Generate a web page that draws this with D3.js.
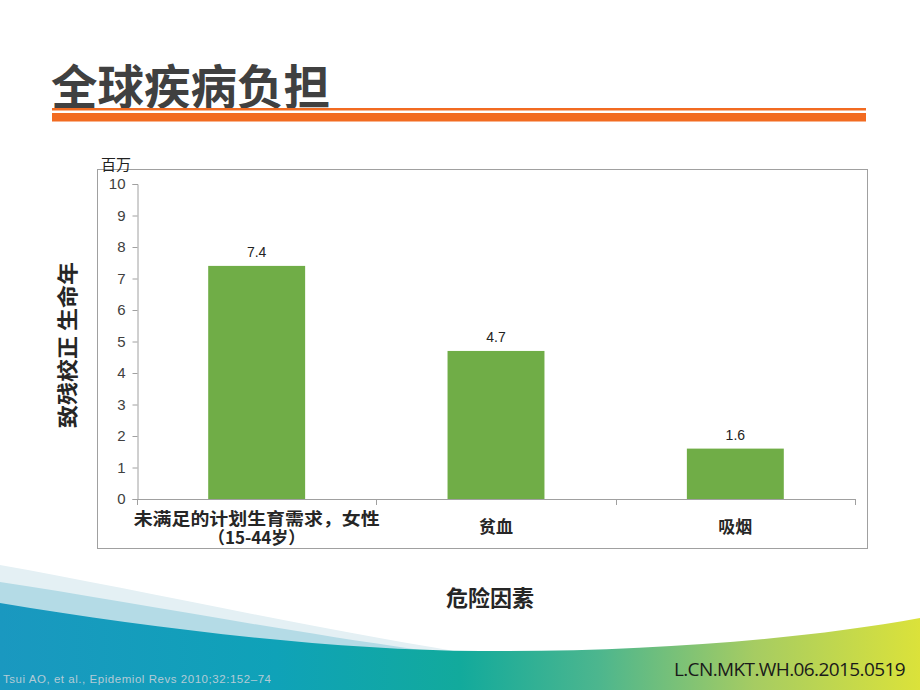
<!DOCTYPE html>
<html><head><meta charset="utf-8">
<script src="https://cdn.jsdelivr.net/npm/d3@7"></script>
<style>body{margin:0;background:#fff}svg{display:block}</style>
</head><body>
<svg id="c" width="920" height="690"></svg>
<script>
const categories = [["未满足的计划生育需求，女性","（15-44岁）"],["贫血"],["吸烟"]];
const values = [7.4, 4.7, 1.6];
const yTicks = [0,1,2,3,4,5,6,7,8,9,10];
const title = "全球疾病负担";
const yTitle = "致残校正 生命年";
const xTitle = "危险因素";
const unit = "百万";
const citation = "Tsui AO, et al., Epidemiol Revs 2010;32:152–74";
const code = "L.CN.MKT.WH.06.2015.0519";

const svg = d3.select("#c");
const F = "'Noto Sans CJK SC','Noto Sans',sans-serif";
const defs = svg.append("defs");

// bottom wave
const g1 = defs.append("linearGradient").attr("id","wg").attr("x1","0").attr("x2","1").attr("y1","0").attr("y2","0");
[[0,"#1a98c0"],[0.3,"#0fa2b8"],[0.5,"#12aa9c"],[0.65,"#4cb68e"],[0.82,"#a6cc62"],[1,"#dbe23a"]]
  .forEach(s=>g1.append("stop").attr("offset",s[0]).attr("stop-color",s[1]));
svg.append("path").attr("fill","#e4f0f4")
  .attr("d","M0,565 C130,588 280,622 460,652 L0,690 Z");
svg.append("path").attr("fill","#b4dbe6")
  .attr("d","M0,582 C120,600 260,627 420,650 L0,690 Z");
svg.append("path").attr("fill","url(#wg)")
  .attr("d","M0,603 C150,628 330,650 480,651 C640,652 800,640 920,618 L920,690 L0,690 Z");

// title
svg.append("text").attr("x",51).attr("y",104).attr("font-family",F).attr("font-weight","bold")
  .attr("font-size",47).attr("fill","#404040").attr("textLength",279).attr("lengthAdjust","spacingAndGlyphs").text(title);
svg.append("rect").attr("x",52).attr("y",108).attr("width",814).attr("height",2.5).attr("fill","#f26b21");
svg.append("rect").attr("x",52).attr("y",113).attr("width",814).attr("height",8.5).attr("fill","#f26b21");

// chart frame
svg.append("rect").attr("x",97.5).attr("y",169.5).attr("width",770).attr("height",379)
  .attr("fill","none").attr("stroke","#a0a0a0").attr("stroke-width",1);

const x = d3.scaleBand().domain(d3.range(categories.length)).range([137,855]).paddingInner(0.595).paddingOuter(0.2975);
const xb = d3.scaleBand().domain(d3.range(categories.length)).range([137,855]);
const y = d3.scaleLinear().domain([0,10]).range([499,184]);

// y axis
const ya = svg.append("g").attr("transform","translate(137.5,0)")
  .call(d3.axisLeft(y).tickValues(yTicks).tickSize(5).tickPadding(7).tickFormat(d3.format("d")));
ya.select(".domain").attr("stroke","#a0a0a0");
ya.selectAll(".tick line").attr("stroke","#a0a0a0");
ya.selectAll("text").attr("font-family","'Liberation Sans',Arial,sans-serif").attr("font-size",15).attr("fill","#404040");

// x axis
svg.append("line").attr("x1",137).attr("x2",855).attr("y1",499.5).attr("y2",499.5).attr("stroke","#a0a0a0");
const xt = d3.range(categories.length+1).map(i=> i<categories.length ? xb(i) : xb(categories.length-1)+xb.bandwidth());
svg.selectAll(".xt").data(xt).join("line").attr("x1",d=>Math.round(d)+0.5).attr("x2",d=>Math.round(d)+0.5)
  .attr("y1",499).attr("y2",505).attr("stroke","#a0a0a0");

// bars
svg.selectAll(".bar").data(values).join("rect")
  .attr("x",(d,i)=>x(i)).attr("width",x.bandwidth())
  .attr("y",d=>y(d)).attr("height",d=>y(0)-y(d)).attr("fill","#70ad47");
svg.selectAll(".lbl").data(values).join("text")
  .attr("x",(d,i)=>x(i)+x.bandwidth()/2).attr("y",d=>y(d)-9)
  .attr("text-anchor","middle").attr("font-family","'Liberation Sans',Arial,sans-serif")
  .attr("font-size",14).attr("fill","#222").text(d=>d3.format(".1f")(d));

// category labels
categories.forEach((lines,i)=>{
  const cx = x(i)+x.bandwidth()/2;
  const y0 = lines.length>1 ? 525 : 533;
  lines.forEach((t,j)=>{
    const tx = svg.append("text").attr("x",cx).attr("y",y0+j*19).attr("text-anchor","middle")
      .attr("font-family",F).attr("font-weight","bold").attr("font-size",17).attr("fill","#262626").text(t);
    if (t.length>10) tx.attr("textLength",246).attr("lengthAdjust","spacingAndGlyphs");
  });
});

// unit
svg.append("text").attr("x",101).attr("y",170).attr("font-family",F).attr("font-size",15).attr("fill","#222").text(unit);

// axis titles
svg.append("text").attr("transform","translate(75,345) rotate(-90)").attr("text-anchor","middle")
  .attr("font-family",F).attr("font-weight","bold").attr("font-size",21).attr("fill","#262626")
  .attr("textLength",166).attr("lengthAdjust","spacingAndGlyphs").text(yTitle);
svg.append("text").attr("x",490).attr("y",606).attr("text-anchor","middle")
  .attr("font-family",F).attr("font-weight","bold").attr("font-size",22).attr("fill","#262626").text(xTitle);

// footer
svg.append("text").attr("x",3).attr("y",683).attr("font-family","'Liberation Sans',Arial,sans-serif")
  .attr("font-size",11.5).attr("fill","#b4cbd6").attr("textLength",268).text(citation);
svg.append("text").attr("x",905).attr("y",676).attr("text-anchor","end").attr("font-family","'Open Sans','Noto Sans',sans-serif")
  .attr("font-size",19).attr("fill","#1a1a1a").attr("letter-spacing","-0.6").text(code);
</script>
</body></html>
